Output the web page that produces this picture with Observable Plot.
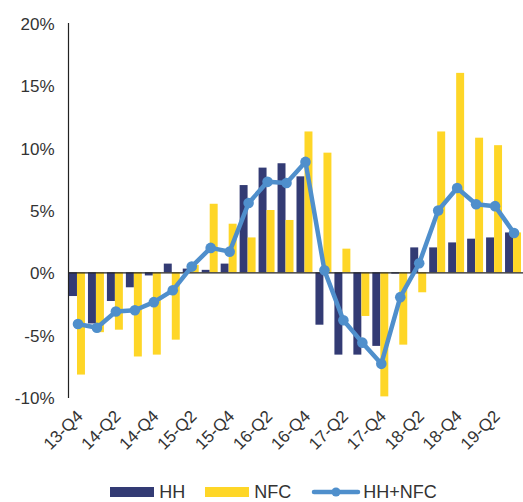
<!DOCTYPE html>
<html>
<head>
<meta charset="utf-8">
<script src="https://cdn.jsdelivr.net/npm/d3@7"></script>
<script src="https://cdn.jsdelivr.net/npm/@observablehq/plot@0.6"></script>
<style>
  body { margin: 0; background: #fff; font-family: "Liberation Sans", Arial, sans-serif; }
  #chart svg { display: block; }
  .legend { display: flex; justify-content: center; align-items: center; height: 44px; font-size: 18px; color: #333; padding-left: 24px; }
  .legend .item { display: flex; align-items: center; margin: 0 10px; }
  .legend .sw { width: 44px; height: 10px; margin-right: 5px; }
</style>
</head>
<body>
<div id="chart"></div>
<div class="legend" id="legend"></div>
<script>
const quarters = ["13-Q4","14-Q1","14-Q2","14-Q3","14-Q4","15-Q1","15-Q2","15-Q3","15-Q4","16-Q1","16-Q2","16-Q3","16-Q4","17-Q1","17-Q2","17-Q3","17-Q4","18-Q1","18-Q2","18-Q3","18-Q4","19-Q1","19-Q2","19-Q3"];
const hh    = [-1.9, -4.1, -2.3, -1.2, -0.25, 0.7, 0.3, 0.2, 0.7, 7.0, 8.4, 8.75, 7.7, -4.2, -6.6, -6.6, -5.9, -0.1, 2.0, 2.0, 2.4, 2.7, 2.8, 3.2];
const nfc   = [-8.2, -4.8, -4.6, -6.75, -6.6, -5.4, 0.6, 5.5, 3.9, 2.8, 5.0, 4.2, 11.3, 9.6, 1.9, -3.5, -9.95, -5.8, -1.6, 11.3, 16.0, 10.8, 10.2, 3.2];
const total = [-4.1, -4.4, -3.1, -3.0, -2.35, -1.4, 0.5, 2.0, 1.7, 5.6, 7.3, 7.2, 8.9, 0.2, -3.8, -5.6, -7.3, -1.95, 0.77, 5.0, 6.8, 5.5, 5.35, 3.2];
const tickLabels = ["13-Q4","14-Q2","14-Q4","15-Q2","15-Q4","16-Q2","16-Q4","17-Q2","17-Q4","18-Q2","18-Q4","19-Q2"];
const yTicks = [-10, -5, 0, 5, 10, 15, 20];

const colors = { HH: "#333b74", NFC: "#fed627", TOT: "#4f8fcc" };

const rows = quarters.map((q, i) => ({ q, hh: hh[i], nfc: nfc[i], total: total[i] }));

const chart = Plot.plot({
  width: 523,
  height: 470,
  marginLeft: 68,
  marginRight: 0,
  marginTop: 23,
  marginBottom: 73,
  style: { fontFamily: "Liberation Sans, Arial, sans-serif", fontSize: "16px", color: "#333" },
  x: { type: "band", domain: quarters, padding: 0, round: false, axis: null },
  y: { domain: [-10, 20], axis: null },
  marks: [
    Plot.barY(rows, { x: "q", y: "hh", fill: colors.HH, insetLeft: 1, insetRight: 10 }),
    Plot.barY(rows, { x: "q", y: "nfc", fill: colors.NFC, insetLeft: 9, insetRight: 2 }),
    Plot.ruleY([0], { stroke: "#222", strokeWidth: 1.2 }),
    Plot.frame({ anchor: "left", stroke: "#222", strokeWidth: 1.2 }),
    Plot.axisY(yTicks, { tickSize: 0, tickPadding: 14, tickFormat: d => d + "%", fontSize: 17, dy: 1, fill: "#333" }),
    Plot.axisX(tickLabels, { tickSize: 0, tickRotate: -45, tickPadding: 16, fontSize: 17, dx: 2, fill: "#333", label: null }),
    Plot.line(rows, { x: "q", y: "total", stroke: colors.TOT, strokeWidth: 4.5 }),
    Plot.dot(rows, { x: "q", y: "total", fill: colors.TOT, r: 5.3 })
  ]
});
document.getElementById("chart").append(chart);

const legend = document.getElementById("legend");
legend.innerHTML = `
  <div class="item"><div class="sw" style="background:${colors.HH}"></div>HH</div>
  <div class="item"><div class="sw" style="background:${colors.NFC}"></div>NFC</div>
  <div class="item"><svg width="50" height="12" style="margin-right:2px"><line x1="3" y1="6" x2="47" y2="6" stroke="${colors.TOT}" stroke-width="4.5" stroke-linecap="round"/><circle cx="25" cy="6" r="4.5" fill="${colors.TOT}"/></svg>HH+NFC</div>
`;
</script>
</body>
</html>
